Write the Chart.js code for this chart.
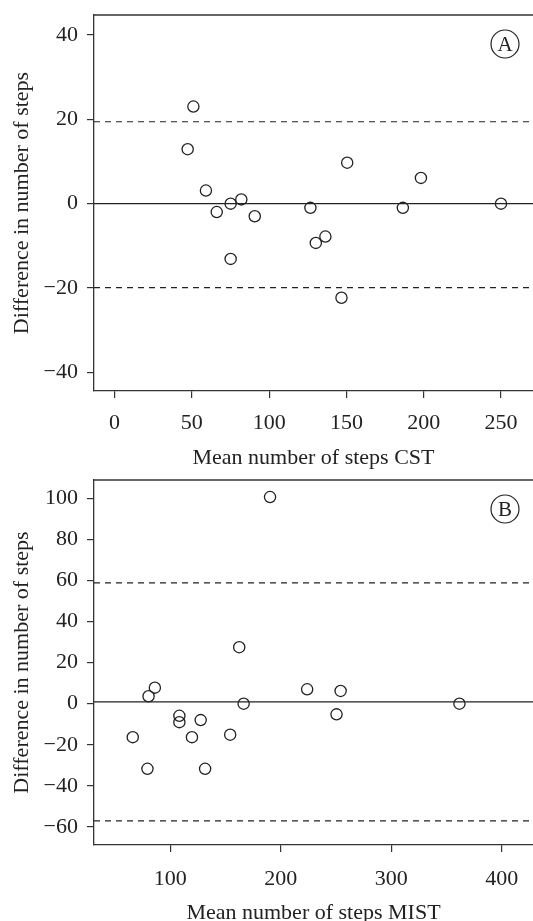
<!DOCTYPE html>
<html>
<head>
<meta charset="utf-8">
<script src="https://cdn.jsdelivr.net/npm/chart.js@4/dist/chart.umd.min.js"></script>
<style>
  html, body { margin: 0; padding: 0; background: #fff; overflow: hidden; }
  .panel { position: absolute; left: 0; }
  #panel-a { top: 0; }
  #panel-b { top: 470px; }
</style>
</head>
<body>
<div class="panel" id="panel-a"><canvas id="chart-a" width="533" height="475"></canvas></div>
<div class="panel" id="panel-b"><canvas id="chart-b" width="533" height="460"></canvas></div>
<script>
// Panel A: CST
const cstMean = [51, 47.3, 59.1, 66.1, 75.1, 82.0, 90.7, 126.7, 150.5, 186.5, 198.2, 250, 75.1, 130.2, 136.4, 146.8];
const cstDiff = [23.0, 12.9, 3.1, -2.0, 0, 1.0, -3.0, -1.0, 9.7, -1.0, 6.1, 0, -13.1, -9.3, -7.8, -22.3];
const cstBias = 0;
const cstLimits = [-19.9, 19.4];
const cstXTicks = [0, 50, 100, 150, 200, 250];
const cstYTicks = [-40, -20, 0, 20, 40];

// Panel B: MIST
const mistMean = [190.3, 162.4, 223.9, 254.2, 86.0, 80.3, 166.4, 361.8, 250.5, 108.2, 108.2, 127.5, 66.0, 119.6, 154.2, 79.3, 131.5];
const mistDiff = [100.6, 27.5, 7.0, 6.2, 7.8, 3.6, 0, 0, -5.2, -5.9, -9.0, -8.0, -16.3, -16.3, -15.1, -31.7, -31.7];
const mistBias = 0.9;
const mistLimits = [-57.1, 58.8];
const mistXTicks = [100, 200, 300, 400];
const mistYTicks = [-60, -40, -20, 0, 20, 40, 60, 80, 100];

const FONT = "'Liberation Serif', 'DejaVu Serif', serif";
const INK = "#222";

const fmt = (v) => (v < 0 ? "\u2212" + Math.abs(v) : String(v));

// top edge of the box plus the circled panel letter
const frame = {
  id: "frame",
  afterDraw(chart, _args, opts) {
    const { ctx, chartArea: a } = chart;
    ctx.save();
    ctx.strokeStyle = "#333";
    ctx.lineWidth = 1.3;
    ctx.beginPath();
    ctx.moveTo(a.left, a.top);
    ctx.lineTo(a.right, a.top);
    ctx.stroke();
    const cx = a.right - 28, cy = a.top + 29;
    ctx.lineWidth = 1.2;
    ctx.strokeStyle = INK;
    ctx.beginPath();
    ctx.arc(cx, cy, 14, 0, Math.PI * 2);
    ctx.stroke();
    ctx.fillStyle = INK;
    ctx.font = "21px " + FONT;
    ctx.textAlign = "center";
    ctx.textBaseline = "middle";
    ctx.fillText(opts.letter, cx, cy + 1);
    ctx.restore();
  },
};

const makeChart = (id, cfg) => {
  const points = cfg.x.map((x, i) => ({ x, y: cfg.y[i] }));
  const hline = (v, dash) => ({
    type: "line",
    data: [{ x: cfg.xMin, y: v }, { x: cfg.xMax, y: v }],
    borderColor: INK,
    borderWidth: 1.2,
    borderDash: dash,
    pointRadius: 0,
    fill: false,
  });
  return new Chart(document.getElementById(id), {
    type: "scatter",
    data: {
      datasets: [
        hline(cfg.bias, []),
        hline(cfg.limits[0], [6, 5]),
        hline(cfg.limits[1], [6, 5]),
        {
          data: points,
          pointStyle: "circle",
          pointRadius: 5.6,
          borderWidth: 1.3,
          borderColor: INK,
          backgroundColor: "rgba(0,0,0,0)",
        },
      ],
    },
    options: {
      responsive: false,
      animation: false,
      layout: { autoPadding: false, padding: { top: cfg.padTop, right: 0, left: 0, bottom: 0 } },
      plugins: {
        legend: { display: false },
        tooltip: { enabled: false },
        frame: { letter: cfg.letter },
      },
      scales: {
        x: {
          type: "linear",
          min: cfg.xMin,
          max: cfg.xMax,
          afterFit: (s) => { s.height = cfg.xHeight; s.paddingLeft = 0; s.paddingRight = 0; },
          afterBuildTicks: (s) => { s.ticks = cfg.xTicks.map((v) => ({ value: v })); },
          ticks: { color: INK, font: { family: FONT, size: 22 }, padding: cfg.xTickPad, maxRotation: 0, callback: fmt },
          grid: { drawOnChartArea: false, drawTicks: true, tickLength: 7, tickColor: "#333", lineWidth: 1.2 },
          border: { display: true, color: "#333", width: 1.3 },
          title: { display: true, text: cfg.xTitle, color: INK, font: { family: FONT, size: 22 }, padding: { top: 0, bottom: 4 } },
        },
        y: {
          type: "linear",
          min: cfg.yMin,
          max: cfg.yMax,
          afterFit: (s) => { s.width = 94; s.paddingTop = 0; s.paddingBottom = 0; },
          afterBuildTicks: (s) => { s.ticks = cfg.yTicks.map((v) => ({ value: v })); },
          ticks: { color: INK, font: { family: FONT, size: 22 }, padding: 9, callback: fmt },
          grid: { drawOnChartArea: false, drawTicks: true, tickLength: 7, tickColor: "#333", lineWidth: 1.2 },
          border: { display: true, color: "#333", width: 1.3 },
          title: { display: true, text: "Difference in number of steps", color: INK, font: { family: FONT, size: 22 }, padding: { top: 9, bottom: 0 } },
        },
      },
    },
    plugins: [frame],
  });
};

makeChart("chart-a", {
  x: cstMean, y: cstDiff, bias: cstBias, limits: cstLimits,
  xTicks: cstXTicks, yTicks: cstYTicks,
  xMin: -13.3, xMax: 270.7, yMin: -44.4, yMax: 44.7,
  padTop: 15, xHeight: 84, xTickPad: 12, letter: "A",
  xTitle: "Mean number of steps CST",
});

makeChart("chart-b", {
  x: mistMean, y: mistDiff, bias: mistBias, limits: mistLimits,
  xTicks: mistXTicks, yTicks: mistYTicks,
  xMin: 30.9, xMax: 428.4, yMin: -68.8, yMax: 108.9,
  padTop: 10, xHeight: 85, xTickPad: 14, letter: "B",
  xTitle: "Mean number of steps MIST",
});
</script>
</body>
</html>
